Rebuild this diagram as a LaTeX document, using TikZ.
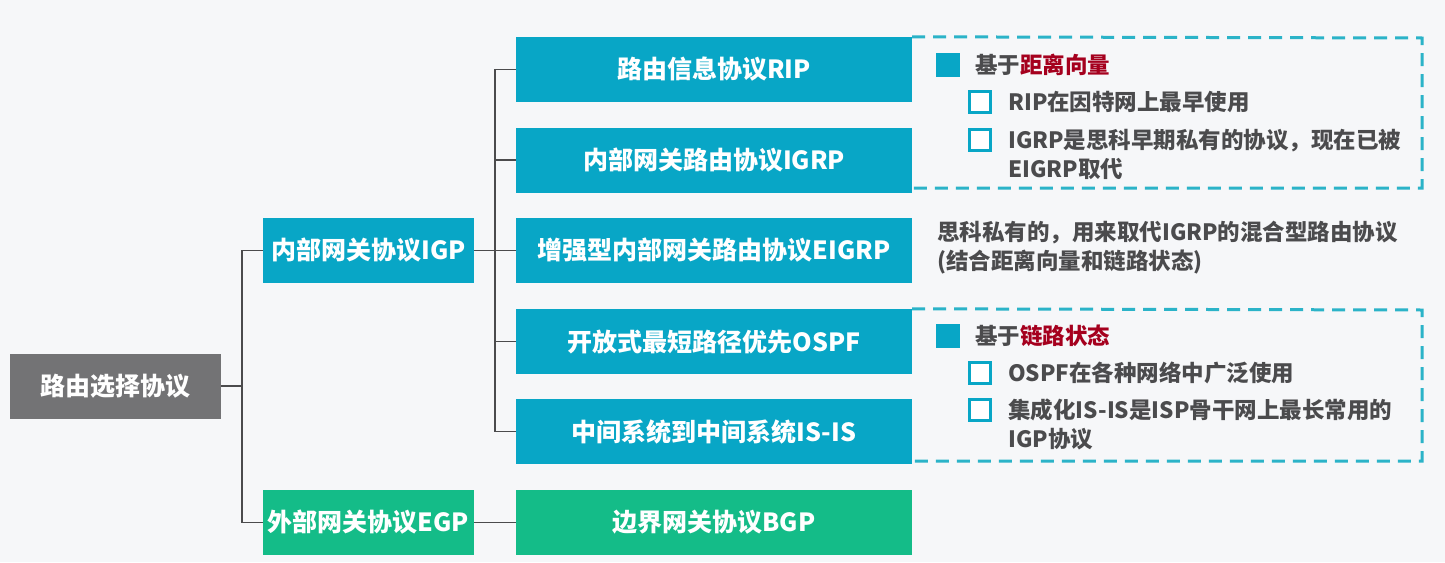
\documentclass[tikz,border=0pt]{standalone}
\usepackage{fontspec}
\setmainfont{Noto Sans CJK SC}
\usepackage{xcolor}
\usetikzlibrary{positioning}
\definecolor{bgc}{HTML}{F6F7F9}
\definecolor{blu}{HTML}{08A6C6}
\definecolor{grn}{HTML}{14BC88}
\definecolor{gry}{HTML}{737375}
\definecolor{txt}{HTML}{4B4B4D}
\definecolor{redc}{HTML}{A5001E}
\definecolor{dsh}{HTML}{2BB3C8}

\begin{document}
\begin{tikzpicture}[x=1pt,y=-1pt,
  box/.style={fill=#1,text=white,font=\fontsize{25}{30}\selectfont\bfseries,inner sep=0pt,minimum height=65pt},
  lbox/.style={box=#1,minimum width=211pt},
  rbox/.style={box=#1,minimum width=396pt},
  conn/.style={draw=txt,line width=1.4pt},
  dashbox/.style={draw=dsh,line width=3pt,dash pattern=on 13pt off 8pt},
  note/.style={anchor=west,inner sep=0pt,text=txt,font=\fontsize{22.5}{29}\selectfont\bfseries,align=left},
  fsq/.style={fill=blu,minimum size=24pt,inner sep=0pt},
  hsq/.style={draw=blu,line width=2.6pt,fill=white,minimum size=21pt,inner sep=0pt}]
\useasboundingbox (0,0) rectangle (1445,562);
\fill[bgc] (0,0) rectangle (1445,562);

% left column
\node[lbox=gry] (root) at (115.5,386) {路由选择协议};
\node[lbox=blu] (igp) at (368.5,250.5) {内部网关协议IGP};
\node[lbox=grn] (egp) at (368.5,522.5) {外部网关协议EGP};

% protocols
\node[rbox=blu] (rip) at (714,69.5) {路由信息协议RIP};
\node[rbox=blu] (igrp) at (714,160) {内部网关路由协议IGRP};
\node[rbox=blu] (eigrp) at (714,250.5) {增强型内部网关路由协议EIGRP};
\node[rbox=blu] (ospf) at (714,341.5) {开放式最短路径优先OSPF};
\node[rbox=blu] (isis) at (714,431.5) {中间系统到中间系统IS-IS};
\node[rbox=grn] (bgp) at (714,522.5) {边界网关协议BGP};

% connectors
\coordinate (j1) at (242,386);
\draw[conn] (root.east) -- (j1);
\draw[conn] (j1) |- (igp.west);
\draw[conn] (j1) |- (egp.west);
\coordinate (j2) at (495,250.5);
\draw[conn] (igp.east) -- (j2);
\foreach \n in {rip,igrp,eigrp,ospf,isis}
  \draw[conn] (j2) |- (\n.west);
\draw[conn] (egp.east) -- (bgp.west);

% distance vector
\draw[dashbox] (rip.north east) -- (1422,38) -- (1422,188) -- (912,188);
\node[fsq] (b1) at (948,65) {};
\node[note] (dv) at (975,65) {基于\textcolor{redc}{距离向量}};
\node[hsq] (c1) at (980,102) {};
\node[note] (dv1) at (1008,102) {RIP在因特网上最早使用};
\node[hsq] (c2) at (980,140) {};
\node[note] (dv2) at (1008,154) {IGRP是思科早期私有的协议，现在已被\\EIGRP取代};

% eigrp note
\node[note] (mix) at (937,248) {思科私有的，用来取代IGRP的混合型路由协议\\(结合距离向量和链路状态)};

% link state
\draw[dashbox] (ospf.north east) -- (1422,310) -- (1422,461) -- (912,461);
\node[fsq] (b2) at (948,336) {};
\node[note] (ls) at (975,336) {基于\textcolor{redc}{链路状态}};
\node[hsq] (c3) at (980,373) {};
\node[note] (ls1) at (1008,373) {OSPF在各种网络中广泛使用};
\node[hsq] (c4) at (980,410) {};
\node[note] (ls2) at (1008,424) {集成化IS-IS是ISP骨干网上最长常用的\\IGP协议};
\end{tikzpicture}
\end{document}
